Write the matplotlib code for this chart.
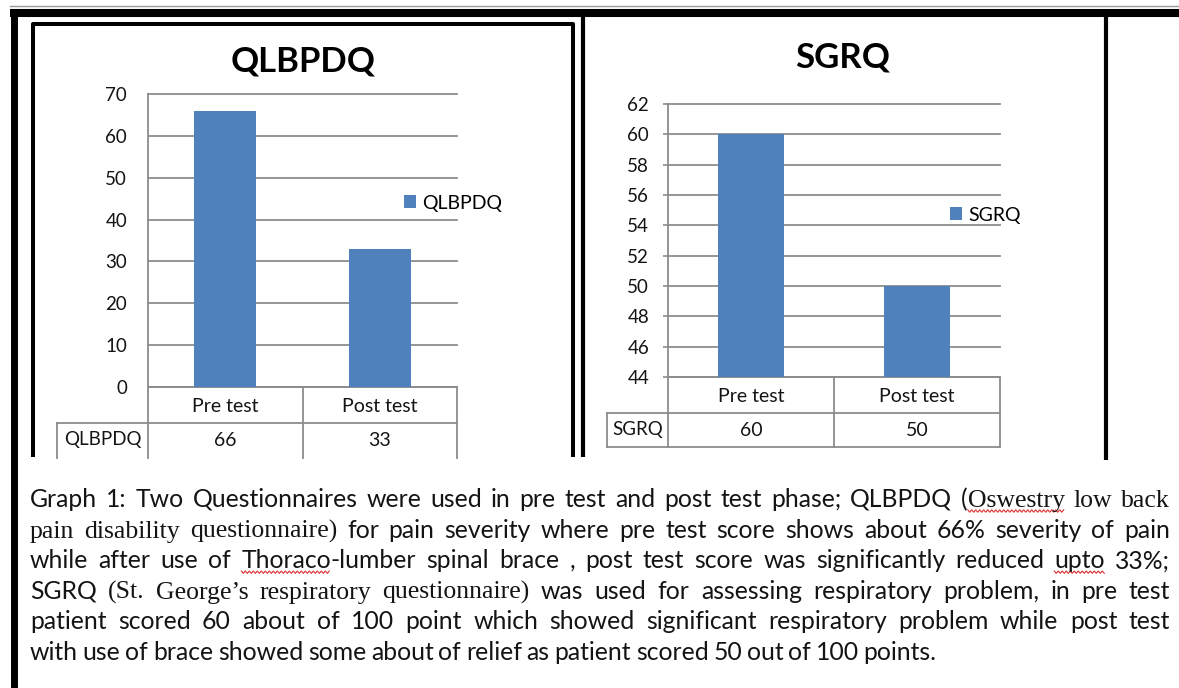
import re

import matplotlib

matplotlib.use("Agg")
import matplotlib.pyplot as plt  # noqa: E402
import numpy as np  # noqa: E402

# ---- data -----------------------------------------------------------------
CATEGORIES = ["Pre test", "Post test"]
QLBPDQ_NAME = "QLBPDQ"
QLBPDQ_VALUES = [66, 33]
QLBPDQ_TICKS = [0, 10, 20, 30, 40, 50, 60, 70]
SGRQ_NAME = "SGRQ"
SGRQ_VALUES = [60, 50]
SGRQ_TICKS = [44, 46, 48, 50, 52, 54, 56, 58, 60, 62]

# {..} serif, [..] sans with spell-check squiggle, <..> serif with squiggle
CAPTION = [
    "Graph 1: Two Questionnaires were used in pre test and post test phase; "
    "QLBPDQ (<Oswestry> {low} {back}",
    "{pain} {disability} {questionnaire)} for pain severity where pre test "
    "score shows about 66% severity of pain",
    "while after use of [Thoraco]-lumber spinal brace , post test score was "
    "significantly reduced [upto] 33%;",
    "SGRQ {(St.} {George\u2019s} {respiratory} {questionnaire)} was used for "
    "assessing respiratory problem, in pre test",
    "patient scored 60 about of 100 point which showed significant "
    "respiratory problem while post test",
    "with use of brace showed some about of relief as patient scored 50 out "
    "of 100 points.",
]

W, H = 1179, 688
BLUE = "#4F81BD"
GRID = "#8C8C8C"
TXT = "#141414"
SANS = "Lato"
SERIF = "Liberation Serif"
FS_AX = 13.5


def rect(x0, y0, x1, y1):
    """Pixel box (top-left origin) -> figure fraction rect."""
    return [x0 / W, 1 - y1 / H, (x1 - x0) / W, (y1 - y0) / H]


fig = plt.figure(figsize=(W / 100, H / 100), dpi=100)
bg = fig.add_axes([0, 0, 1, 1], zorder=-1)
bg.set_xlim(0, W)
bg.set_ylim(H, 0)
bg.axis("off")

# page frames
bg.plot([10, W], [6, 6], color="#9a9a9a", lw=1)
bg.plot([10, W], [13, 13], color="black", lw=5.8, solid_capstyle="butt")
bg.plot([13.5, 13.5], [9, H], color="black", lw=5.0, solid_capstyle="butt")
bg.plot([32.5, 32.5, 572.5, 572.5], [457, 24, 24, 457], color="black",
        lw=2.9, solid_joinstyle="round", solid_capstyle="butt")
bg.plot([582.5, 582.5], [16, 457], color="black", lw=3.0, solid_capstyle="butt")
bg.plot([1106, 1106], [16, 460], color="black", lw=3.0, solid_capstyle="butt")


def bar_chart(name, values, ticks, box, tick_len, pad, legend_xy, title_xy,
              table_bottom, label_left):
    x0, y0, x1, y1 = box
    ax = fig.add_axes(rect(*box))
    xs = np.arange(len(CATEGORIES))
    ax.bar(xs, values, width=0.4, color=BLUE, label=name, zorder=3)
    ax.set_xlim(-0.5, len(CATEGORIES) - 0.5)
    ax.set_ylim(ticks[0], ticks[-1])
    ax.set_yticks(ticks)
    ax.set_xticks([])
    ax.yaxis.grid(True, color=GRID, lw=1.3)
    for gl in ax.get_ygridlines():
        gl.set_clip_on(False)
    ax.set_axisbelow(True)
    for side in ("top", "right"):
        ax.spines[side].set_visible(False)
    for side in ("left", "bottom"):
        ax.spines[side].set_color(GRID)
        ax.spines[side].set_linewidth(1.3)
    ax.tick_params(axis="y", length=tick_len, width=1.2, color=GRID, pad=pad,
                   labelsize=FS_AX, labelcolor=TXT)
    for lab in ax.get_yticklabels():
        lab.set_family(SANS)
    ax.patch.set_alpha(0)
    ax.legend(loc="center left", bbox_to_anchor=(legend_xy[0] / W, 1 - legend_xy[1] / H),
              bbox_transform=fig.transFigure, frameon=False, handlelength=0.6,
              handleheight=0.6, handletextpad=0.35, borderaxespad=0,
              borderpad=0, prop={"family": SANS, "size": 14})
    fig.text(title_xy[0] / W, 1 - title_xy[1] / H, name, ha="center", va="center",
             fontsize=25, fontweight="bold", family=SANS, color="black")

    # data table under the plot
    row = y1 + 36
    cols = np.linspace(x0, x1, len(CATEGORIES) + 1)
    bg.plot([x0, x1], [row, row], color=GRID, lw=1.3)
    bg.plot([label_left, x0], [row, row], color=GRID, lw=1.3)
    bg.plot([label_left, label_left], [row, table_bottom], color=GRID, lw=1.3)
    if table_bottom < 455:
        bg.plot([label_left, x1], [table_bottom, table_bottom], color=GRID, lw=1.3)
    for c in cols:
        bg.plot([c, c], [y1, table_bottom], color=GRID, lw=1.3)
    for i, cat in enumerate(CATEGORIES):
        cx = (cols[i] + cols[i + 1]) / 2
        bg.text(cx, (y1 + row) / 2 + 1, cat, ha="center", va="center",
                fontsize=14, family=SANS, color=TXT)
        bg.text(cx, row + 17, str(values[i]), ha="center", va="center",
                fontsize=14, family=SANS, color=TXT)
    bg.text((label_left + x0) / 2, row + 17, name, ha="center", va="center",
            fontsize=13.5, family=SANS, color=TXT)


bar_chart(QLBPDQ_NAME, QLBPDQ_VALUES, QLBPDQ_TICKS, (148, 94, 457, 387),
          tick_len=0, pad=15, legend_xy=(404, 203), title_xy=(303, 62),
          table_bottom=458, label_left=57)
bar_chart(SGRQ_NAME, SGRQ_VALUES, SGRQ_TICKS, (668, 104, 1000, 377),
          tick_len=3.5, pad=10, legend_xy=(950, 215), title_xy=(843, 58),
          table_bottom=447, label_left=607)

# ---- caption, justified like the Word paragraph --------------------------
TOKEN = re.compile(r"\{([^}]*)\}|\[([^\]]*)\]|<([^>]*)>|([^{\[<]+)")
FS = 17.8
LEFT, RIGHT = 30, 1170
BASE0, LEAD = 507, 30.6

fig.canvas.draw()
renderer = fig.canvas.get_renderer()


def measure(s, fam, size):
    t = bg.text(0, 0, s, fontsize=size, family=fam)
    w = t.get_window_extent(renderer).width
    t.remove()
    return w


space_w = measure("a a", SANS, FS) - measure("aa", SANS, FS)

for li, line in enumerate(CAPTION):
    base = BASE0 + li * LEAD
    words = []
    for word in line.split(" "):
        parts = []
        for m in TOKEN.finditer(word):
            serif, sq_sans, sq_serif, plain = m.groups()
            if serif is not None:
                parts.append((serif, SERIF, False))
            elif sq_sans is not None:
                parts.append((sq_sans, SANS, True))
            elif sq_serif is not None:
                parts.append((sq_serif, SERIF, True))
            else:
                parts.append((plain, SANS, False))
        sized = []
        for text, fam, sq in parts:
            size = FS * 1.04 if fam == SERIF else FS
            sized.append((text, fam, sq, size, measure(text, fam, size)))
        words.append(sized)
    total = sum(p[4] for w in words for p in w)
    last = li == len(CAPTION) - 1
    gap = space_w * 0.75 if last else (RIGHT - LEFT - total) / (len(words) - 1)
    x = LEFT
    for w in words:
        for text, fam, sq, size, wid in w:
            bg.text(x, base, text, fontsize=size, family=fam, color="#141414",
                    va="baseline", ha="left")
            if sq:
                zx = np.arange(x, x + wid, 2.0)
                zy = base + 4 + 1.2 * ((np.arange(len(zx)) % 2) * 2 - 1)
                bg.plot(zx, zy, color="#e03030", lw=0.8)
            x += wid
        x += gap

fig.savefig("out.png", dpi=100)
